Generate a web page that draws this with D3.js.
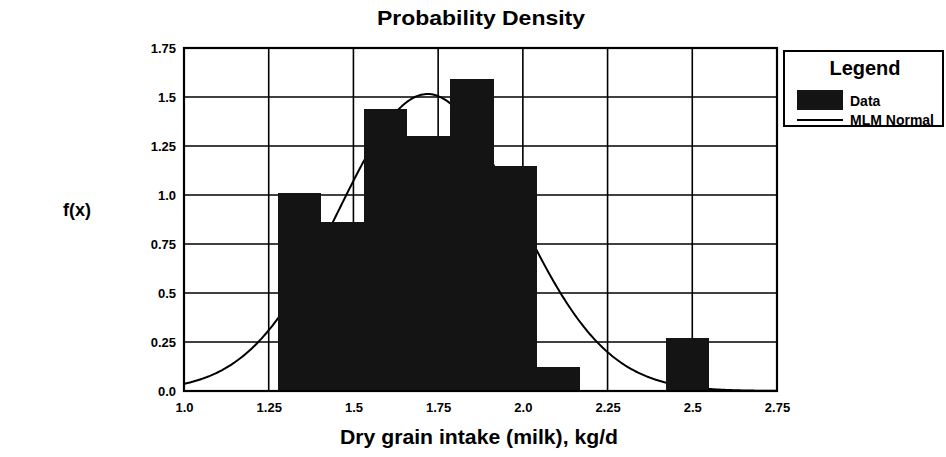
<!DOCTYPE html>
<html>
<head>
<meta charset="utf-8">
<script src="https://cdn.jsdelivr.net/npm/d3@7"></script>
<style>
  html, body { margin: 0; padding: 0; background: #fff; }
  svg { display: block; font-family: "Liberation Sans", Arial, sans-serif; }
</style>
</head>
<body>
<svg id="chart" width="946" height="457"></svg>
<script>
// Histogram bins (edges) and density heights
const binEdges = [1.276, 1.403, 1.531, 1.658, 1.785, 1.913, 2.040, 2.167, 2.294, 2.421, 2.549];
const densities = [1.01, 0.86, 1.44, 1.30, 1.59, 1.15, 0.12, 0, 0, 0.27];

// Fitted normal (maximum likelihood)
const normalMean = 1.719;
const normalSd = 0.2633;

const xTicks = [1.0, 1.25, 1.5, 1.75, 2.0, 2.25, 2.5, 2.75];
const xTickLabels = ["1.0", "1.25", "1.5", "1.75", "2.0", "2.25", "2.5", "2.75"];
const yTicks = [0, 0.25, 0.5, 0.75, 1.0, 1.25, 1.5, 1.75];
const yTickLabels = ["0.0", "0.25", "0.5", "0.75", "1.0", "1.25", "1.5", "1.75"];

const legendItems = ["Data", "MLM Normal"];

const svg = d3.select("#chart");
const plot = { left: 184, right: 777, top: 48, bottom: 391 };

const x = d3.scaleLinear().domain([1.0, 2.75]).range([plot.left, plot.right]);
const y = d3.scaleLinear().domain([0, 1.75]).range([plot.bottom, plot.top]);

// grid
const grid = svg.append("g");
grid.selectAll("line.v").data(xTicks.slice(1, -1)).join("line")
  .attr("x1", d => x(d)).attr("x2", d => x(d))
  .attr("y1", plot.top).attr("y2", plot.bottom)
  .attr("stroke", "#000").attr("stroke-width", 1.6);
grid.selectAll("line.h").data(yTicks.slice(1, -1)).join("line")
  .attr("x1", plot.left).attr("x2", plot.right)
  .attr("y1", d => y(d)).attr("y2", d => y(d))
  .attr("stroke", "#000").attr("stroke-width", 1.6);

// normal density curve
const curveXs = d3.range(1.0, 2.7501, 0.005);
const pdf = t => Math.exp(-0.5 * ((t - normalMean) / normalSd) ** 2) / (normalSd * Math.sqrt(2 * Math.PI));
svg.append("path")
  .datum(curveXs)
  .attr("d", d3.line().x(d => x(d)).y(d => y(pdf(d))))
  .attr("fill", "none").attr("stroke", "#000").attr("stroke-width", 2);

// bars
const bins = densities.map((v, i) => ({ x0: binEdges[i], x1: binEdges[i + 1], v }));
svg.append("g").attr("shape-rendering", "crispEdges")
  .selectAll("rect").data(bins.filter(b => b.v > 0)).join("rect")
  .attr("x", d => x(d.x0))
  .attr("width", d => x(d.x1) - x(d.x0) + 0.5)
  .attr("y", d => y(d.v))
  .attr("height", d => y(0) - y(d.v))
  .attr("fill", "#141414");

// frame
svg.append("rect")
  .attr("x", plot.left).attr("y", plot.top)
  .attr("width", plot.right - plot.left).attr("height", plot.bottom - plot.top)
  .attr("fill", "none").attr("stroke", "#000").attr("stroke-width", 2.2);

// axes
const xAxis = d3.axisBottom(x).tickValues(xTicks).tickSize(0).tickPadding(12)
  .tickFormat((d, i) => xTickLabels[i]);
const gx = svg.append("g").attr("transform", `translate(0,${plot.bottom})`).call(xAxis);
gx.select(".domain").remove();
gx.selectAll("text").attr("font-size", 13).attr("font-weight", "bold")
  .attr("font-family", "Liberation Sans, Arial, sans-serif").attr("fill", "#000");

const yAxis = d3.axisLeft(y).tickValues(yTicks).tickSize(0).tickPadding(8)
  .tickFormat((d, i) => yTickLabels[i]);
const gy = svg.append("g").attr("transform", `translate(${plot.left},0)`).call(yAxis);
gy.select(".domain").remove();
gy.selectAll("text").attr("font-size", 13).attr("font-weight", "bold")
  .attr("font-family", "Liberation Sans, Arial, sans-serif").attr("fill", "#000");

// titles
svg.append("text").attr("x", 481).attr("y", 25).attr("text-anchor", "middle")
  .attr("font-size", 21).attr("font-weight", "bold")
  .attr("textLength", 208).attr("lengthAdjust", "spacingAndGlyphs")
  .text("Probability Density");
svg.append("text").attr("x", 479).attr("y", 444).attr("text-anchor", "middle")
  .attr("font-size", 20).attr("font-weight", "bold")
  .attr("textLength", 278).attr("lengthAdjust", "spacingAndGlyphs")
  .text("Dry grain intake (milk), kg/d");
svg.append("text").attr("x", 77).attr("y", 216).attr("text-anchor", "middle")
  .attr("font-size", 18).attr("font-weight", "bold").text("f(x)");

// legend
const lg = svg.append("g");
lg.append("rect").attr("x", 784).attr("y", 51).attr("width", 159).attr("height", 75)
  .attr("fill", "#fff").attr("stroke", "#000").attr("stroke-width", 2);
lg.append("text").attr("x", 865).attr("y", 75).attr("text-anchor", "middle")
  .attr("font-size", 20).attr("font-weight", "bold").text("Legend");
lg.append("rect").attr("x", 797).attr("y", 90).attr("width", 46).attr("height", 20).attr("fill", "#141414");
lg.append("line").attr("x1", 797).attr("x2", 843).attr("y1", 120).attr("y2", 120)
  .attr("stroke", "#000").attr("stroke-width", 2);
lg.selectAll("text.item").data(legendItems).join("text")
  .attr("class", "item")
  .attr("x", 850).attr("y", (d, i) => 106 + i * 19)
  .attr("font-size", 14).attr("font-weight", "bold").text(d => d);
</script>
</body>
</html>
